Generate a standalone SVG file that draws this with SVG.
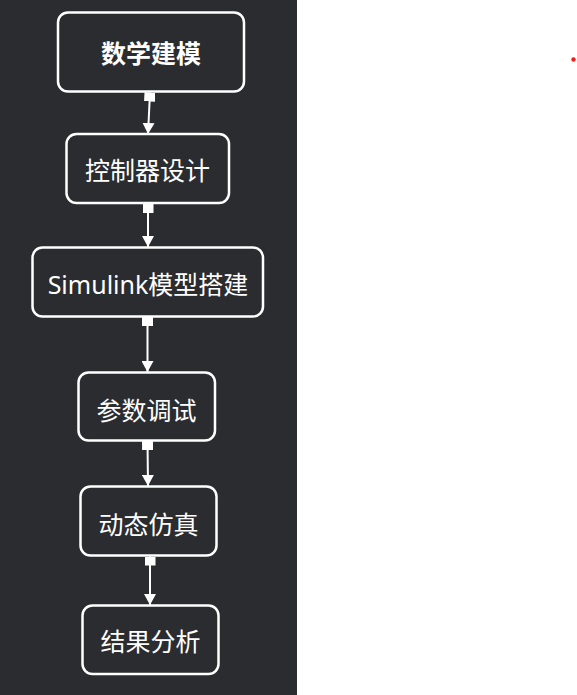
<svg xmlns="http://www.w3.org/2000/svg" width="577" height="695" viewBox="0 0 577 695">
<style>
.box{fill:#2b2c30;stroke:#ffffff;stroke-width:2.5}
.lbl{fill:#ffffff;font-family:"Noto Sans","Noto Sans CJK SC",sans-serif;font-size:25px;text-anchor:middle}
.bold{font-weight:bold}
.edge{stroke:#ffffff;stroke-width:2;fill:none;marker-start:url(#sq);marker-end:url(#arr)}
</style>
<defs>
<marker id="arr" markerUnits="userSpaceOnUse" markerWidth="11" markerHeight="12" refX="11" refY="6" orient="auto" viewBox="0 0 11 12">
<path d="M0,0 L11,6 L0,12 Z" fill="#ffffff"/>
</marker>
<marker id="sq" markerUnits="userSpaceOnUse" markerWidth="9" markerHeight="11" refX="0" refY="5.5" orient="auto" viewBox="0 0 9 11">
<rect x="0" y="0" width="9" height="11" fill="#ffffff"/>
</marker>
</defs>
<rect x="0" y="0" width="577" height="695" fill="#ffffff"/>
<rect x="0" y="0" width="297" height="695" fill="#2b2c30"/>
<circle cx="573.5" cy="59.5" r="2.2" fill="#e8231e"/>
<g id="connectors">
<path class="edge" d="M150,92.5 L148,134"/>
<path class="edge" d="M148,204 L148,247"/>
<path class="edge" d="M147.5,317 L147.5,372"/>
<path class="edge" d="M147.5,441 L148,486"/>
<path class="edge" d="M150,556.5 L150,605"/>
</g>
<g id="n1">
<rect class="box" x="58" y="12.5" width="186" height="79" rx="10"/>
<text class="lbl bold" x="151" y="63">数学建模</text>
</g>
<g id="n2">
<rect class="box" x="66.5" y="134" width="162.5" height="69" rx="10"/>
<text class="lbl" x="147.5" y="180">控制器设计</text>
</g>
<g id="n3">
<rect class="box" x="32.5" y="247.5" width="230.5" height="69" rx="10"/>
<text class="lbl" x="148" y="294">Simulink模型搭建</text>
</g>
<g id="n4">
<rect class="box" x="78.5" y="372.5" width="136.5" height="68" rx="10"/>
<text class="lbl" x="146.5" y="419.5">参数调试</text>
</g>
<g id="n5">
<rect class="box" x="80.5" y="486.5" width="136" height="69" rx="10"/>
<text class="lbl" x="148.5" y="533.5">动态仿真</text>
</g>
<g id="n6">
<rect class="box" x="82.5" y="605.5" width="136" height="68.5" rx="10"/>
<text class="lbl" x="150.5" y="651">结果分析</text>
</g>
</svg>
